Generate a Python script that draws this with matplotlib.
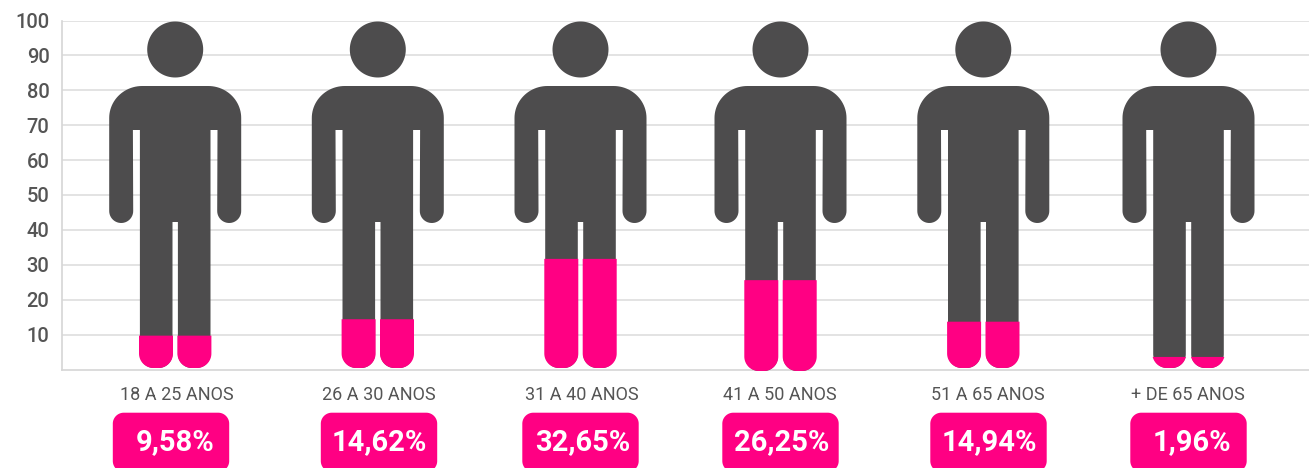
import numpy as np
import matplotlib
matplotlib.use("Agg")
import matplotlib.pyplot as plt
from matplotlib.patches import Polygon

plt.rcParams['font.family'] = ['Roboto', 'DejaVu Sans']

# --- data ---
categories = ["18 A 25 ANOS", "26 A 30 ANOS", "31 A 40 ANOS", "41 A 50 ANOS", "51 A 65 ANOS", "+ DE 65 ANOS"]
percent_labels = ["9,58%", "14,62%", "32,65%", "26,25%", "14,94%", "1,96%"]
fill_levels = [9.7, 14.4, 31.7, 25.6, 13.7, 3.6]   # height of the pink fill on the 0-100 scale
y_ticks = [10, 20, 30, 40, 50, 60, 70, 80, 90, 100]

# --- layout (pixels of the 1309x468 canvas) ---
W, H = 1309, 468
AX_L, Y0, Y100 = 62, 369.5, 20.5
person_x = [175.2, 377.8, 580.5, 780.5, 983.3, 1188.5]
leg_bottom = [368, 368, 368, 371, 368, 368]
cat_x = [176.7, 379.3, 581.5, 780, 988.3, 1188.3]
box_x = [171, 379, 580.5, 780.5, 988.5, 1188.5]
pct_x = [175, 379.7, 582.7, 782, 989.7, 1192]
DARK, PINK, GRID, TXT = "#4d4c4d", "#ff0083", "#e0e0e0", "#555555"

fig = plt.figure(figsize=(W / 100, H / 100), dpi=100)
ax = fig.add_axes([AX_L / W, (H - Y0) / H, (W - AX_L) / W, (Y0 - Y100) / H])
ax.set_xlim(AX_L, W)
ax.set_ylim(0, 100)


def py2y(py):
    return (Y0 - np.asarray(py, dtype=float)) / (Y0 - Y100) * 100


def arc(cx, cy, rx, ry, a0, a1, n=24):
    t = np.radians(np.linspace(a0, a1, n))
    return np.column_stack([cx + rx * np.cos(t), cy - ry * np.sin(t)])


def right_half(bottom):
    return np.vstack([
        [[0, 86]],
        arc(33, 118, 33, 32, 90, 0),
        arc(54, 211, 12, 12, 0, -180),
        [[42.3, 130], [35.3, 130]],
        arc(21.3, bottom - 14, 14, 14, 0, -90),
        arc(16.7, bottom - 14, 14, 14, -90, -180),
        [[2.7, 222], [0, 222]],
    ])


def leg(bottom, grow=0.5):
    r = 14.5
    return np.vstack([
        [[-16.5 - grow, 222]],
        arc(-16.5 - grow + r, bottom - r, r, r, 180, 270),
        arc(16.5 + grow - r, bottom - r, r, r, 270, 360),
        [[16.5 + grow, 222]],
    ])


def rounded_box(x0, x1, y0, y1, r=11):
    return np.vstack([
        arc(x1 - r, y0 + r, r, r, 90, 0),
        arc(x1 - r, y1 - r, r, r, 0, -90),
        arc(x0 + r, y1 - r, r, r, -90, -180),
        arc(x0 + r, y0 + r, r, r, 180, 90),
    ])


def add_poly(xy, color, z):
    xy = np.column_stack([xy[:, 0], py2y(xy[:, 1])])
    ax.add_patch(Polygon(xy, closed=True, fc=color, ec="none", zorder=z, clip_on=False))


# --- axes furniture ---
for s in ("top", "right"):
    ax.spines[s].set_visible(False)
for s in ("left", "bottom"):
    ax.spines[s].set_color("#d6d6d6")
    ax.spines[s].set_linewidth(1.2)
ax.set_xticks([])
ax.set_yticks(y_ticks)
ax.set_yticklabels([str(v) for v in y_ticks], fontsize=14.5, fontweight="medium", color=TXT)
ax.tick_params(axis="y", length=0, pad=9)
ax.yaxis.grid(True, color=GRID, linewidth=1.3)
ax.set_axisbelow(True)

# --- people ---
for cx, level, bottom in zip(person_x, fill_levels, leg_bottom):
    half = right_half(bottom)
    mirror = half[::-1] * [-1, 1]
    body = np.vstack([half, mirror])
    body[:, 0] += cx
    add_poly(body, DARK, 3)
    head = arc(cx, 49.5, 28, 28, 0, 360, 90)
    add_poly(head, DARK, 3)
    level_py = Y0 - level / 100 * (Y0 - Y100)
    for side in (-1, 1):
        lg = leg(bottom)
        lg[:, 0] += cx + side * 19.2
        lg[:, 1] = np.maximum(lg[:, 1], level_py)
        add_poly(lg, PINK, 4)

# --- labels below ---
for name, label, xc, bx, px in zip(categories, percent_labels, cat_x, box_x, pct_x):
    ax.text(xc, py2y(395), name, ha="center", va="center", fontsize=13, color=TXT, clip_on=False)
    add_poly(rounded_box(bx - 58.2, bx + 58.2, 412.7, 472), PINK, 3)
    ax.text(px, py2y(442), label, ha="center", va="center", fontsize=21, fontweight="bold",
            color="white", clip_on=False, zorder=5)

fig.savefig("out.png", dpi=100)
